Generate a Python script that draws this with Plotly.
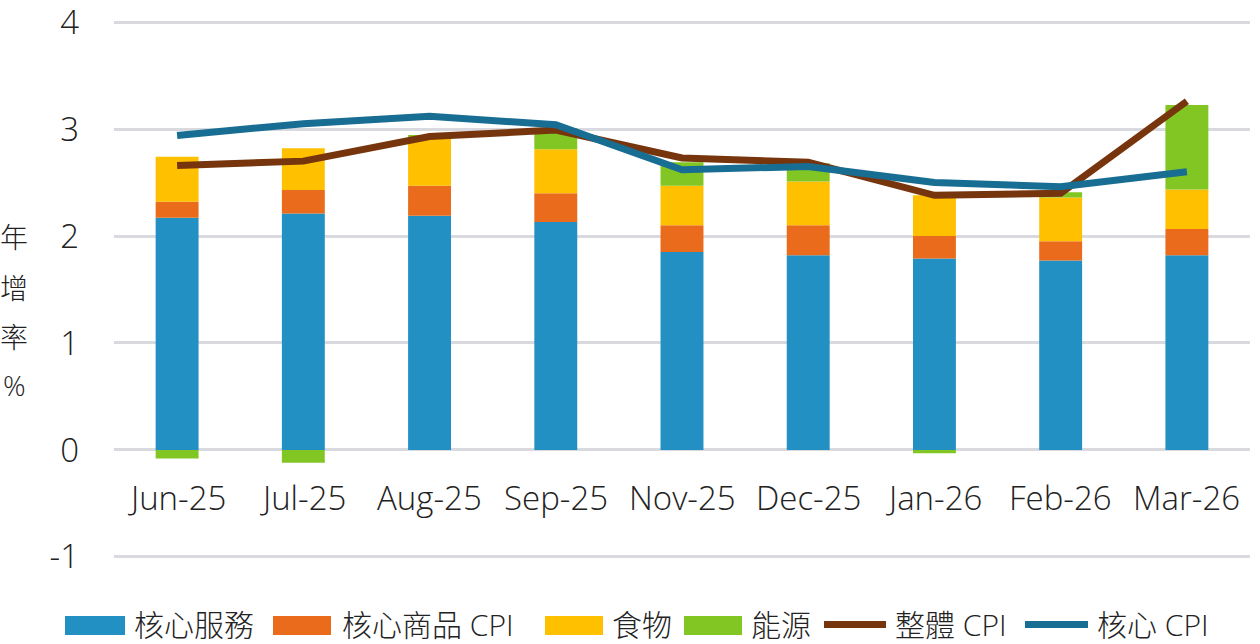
import plotly.graph_objects as go

categories = ["Jun-25", "Jul-25", "Aug-25", "Sep-25", "Nov-25", "Dec-25", "Jan-26", "Feb-26", "Mar-26"]
core_services = [2.17, 2.21, 2.19, 2.13, 1.85, 1.82, 1.79, 1.77, 1.82]
core_goods = [0.15, 0.22, 0.28, 0.27, 0.25, 0.28, 0.21, 0.18, 0.245]
food = [0.42, 0.39, 0.46, 0.41, 0.37, 0.41, 0.38, 0.41, 0.37]
energy = [-0.08, -0.12, 0.01, 0.20, 0.22, 0.17, -0.03, 0.05, 0.79]
headline_cpi = [2.66, 2.70, 2.93, 2.99, 2.73, 2.69, 2.38, 2.40, 3.26]
core_cpi = [2.94, 3.05, 3.12, 3.04, 2.62, 2.65, 2.50, 2.46, 2.60]
y_ticks = [-1, 0, 1, 2, 3, 4]
y_tick_text = ["-1", "0", "1", "2", "3", "4"]
y_title_chars = ["年", "增", "率", "%"]

FONT = "Open Sans, Noto Sans CJK TC, sans-serif"
TXT = "#222222"

W, H = 1260, 644
ML, MR, MT, MB = 114, 10, 21, 86
PW, PH = W - ML - MR, H - MT - MB


def px_x(px):
    return (px - ML) / PW


def px_y(py):
    return (H - MB - py) / PH


fig = go.Figure()
bars = [
    ("核心服務", core_services, "#2290C3"),
    ("核心商品 CPI", core_goods, "#E96B1B"),
    ("食物", food, "#FFC000"),
    ("能源", energy, "#82C624"),
]
for name, vals, col in bars:
    fig.add_trace(go.Bar(x=categories, y=vals, name=name, marker=dict(color=col, line=dict(width=0))))

lines = [
    ("整體 CPI", headline_cpi, "#77350E"),
    ("核心 CPI", core_cpi, "#186D92"),
]
for name, vals, col in lines:
    fig.add_trace(go.Scatter(x=categories, y=vals, name=name, mode="lines",
                             line=dict(color=col, width=7)))

# category labels placed below the zero line (axis crosses at 0)
for c in categories:
    fig.add_annotation(x=c, y=-0.44, xref="x", yref="y", text=c, showarrow=False,
                       font=dict(size=33, color=TXT, family=FONT, weight=300))

# vertical y-axis title, one character per line
for ch, py in zip(y_title_chars, [237, 288, 337, 385]):
    fig.add_annotation(x=px_x(14), y=px_y(py), xref="paper", yref="paper",
                       xanchor="center", yanchor="middle", text=ch, showarrow=False,
                       font=dict(size=28, color=TXT, family=FONT, weight=300))

# custom legend (large swatches like the original)
legend_items = [
    ("bar", "核心服務", "#2290C3", 65, 125, 132),
    ("bar", "核心商品 CPI", "#E96B1B", 273, 331, 340),
    ("bar", "食物", "#FFC000", 545, 603, 610),
    ("bar", "能源", "#82C624", 684, 742, 749),
    ("line", "整體 CPI", "#77350E", 824, 886, 893),
    ("line", "核心 CPI", "#186D92", 1025, 1088, 1095),
]
for kind, label, col, x0, x1, tx in legend_items:
    if kind == "bar":
        fig.add_shape(type="rect", xref="paper", yref="paper",
                      x0=px_x(x0), x1=px_x(x1), y0=px_y(635), y1=px_y(616),
                      fillcolor=col, line=dict(width=0))
    else:
        fig.add_shape(type="line", xref="paper", yref="paper",
                      x0=px_x(x0), x1=px_x(x1), y0=px_y(624.5), y1=px_y(624.5),
                      line=dict(color=col, width=7))
    fig.add_annotation(x=px_x(tx), y=px_y(624), xref="paper", yref="paper",
                       xanchor="left", yanchor="middle", text=label, showarrow=False,
                       font=dict(size=30, color=TXT, family=FONT, weight=300))

fig.update_layout(
    width=W, height=H,
    barmode="relative", bargap=0.66,
    plot_bgcolor="white", paper_bgcolor="white",
    margin=dict(l=ML, r=MR, t=MT, b=MB, autoexpand=False),
    font=dict(family=FONT, size=30, color=TXT),
    showlegend=False,
    xaxis=dict(showticklabels=False, showgrid=False, zeroline=False, showline=False),
    yaxis=dict(range=[-1.01, 4.01], tickmode="array", tickvals=y_ticks, ticktext=y_tick_text,
               showgrid=True, gridcolor="#D9DAE0", gridwidth=3, ticklabeloverflow="allow",
               zeroline=False, showline=False, ticks="", ticklabelstandoff=34,
               tickfont=dict(size=33, color=TXT, family=FONT, weight=300)),
)

fig.write_html("out.html", config={"displayModeBar": False},
               post_script="document.body.style.margin='0';document.body.style.overflow='hidden';")
